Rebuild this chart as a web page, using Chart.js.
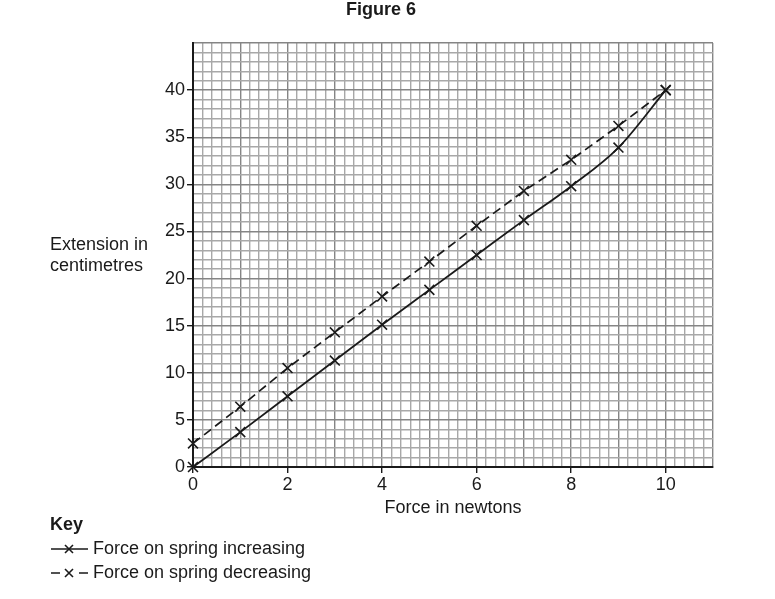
<!DOCTYPE html>
<html>
<head>
<meta charset="utf-8">
<script src="https://cdn.jsdelivr.net/npm/chart.js@4"></script>
<style>
  body { margin: 0; background: #fff; }
  #wrap { width: 775px; height: 599px; position: relative; }
</style>
</head>
<body>
<div id="wrap"><canvas id="springChart" width="775" height="599"></canvas></div>
<script>
// Data
const forces = [0, 1, 2, 3, 4, 5, 6, 7, 8, 9, 10];
const extIncreasing = [0, 3.7, 7.5, 11.3, 15.1, 18.8, 22.5, 26.2, 29.8, 33.9, 40];
const extDecreasing = [2.5, 6.4, 10.5, 14.3, 18.1, 21.8, 25.6, 29.3, 32.6, 36.2, 40];
const xTickLabels = [0, 2, 4, 6, 8, 10];
const yTickLabels = [0, 5, 10, 15, 20, 25, 30, 35, 40];

const FONT = '"Liberation Sans", Arial, sans-serif';
const INK = '#1a1a1a';

const toPoints = (ys) => forces.map((f, i) => ({ x: f, y: ys[i] }));

// extra text: title, y label, key
const annotations = {
  id: 'annotations',
  afterDraw(chart) {
    const ctx = chart.ctx;
    ctx.save();
    ctx.fillStyle = INK;
    ctx.textBaseline = 'middle';

    ctx.font = 'bold 18px ' + FONT;
    ctx.textAlign = 'center';
    ctx.fillText('Figure 6', 381, 10);

    ctx.font = '18px ' + FONT;
    ctx.textAlign = 'left';
    ctx.fillText('Extension in', 50, 245);
    ctx.fillText('centimetres', 50, 266);

    ctx.textAlign = 'center';
    ctx.fillText('Force in newtons', 453, 508);

    // key
    ctx.textAlign = 'left';
    ctx.font = 'bold 18px ' + FONT;
    ctx.fillText('Key', 50, 525);
    ctx.font = '18px ' + FONT;
    ctx.fillText('Force on spring increasing', 93, 549);
    ctx.fillText('Force on spring decreasing', 93, 573);

    ctx.strokeStyle = INK;
    ctx.lineWidth = 1.6;
    ctx.beginPath();
    ctx.moveTo(51, 549); ctx.lineTo(88, 549);
    ctx.moveTo(51, 573); ctx.lineTo(60, 573);
    ctx.moveTo(79, 573); ctx.lineTo(88, 573);
    ctx.stroke();
    [[69, 549], [69, 573]].forEach(([cx, cy]) => {
      ctx.beginPath();
      ctx.moveTo(cx - 4, cy - 4); ctx.lineTo(cx + 4, cy + 4);
      ctx.moveTo(cx + 4, cy - 4); ctx.lineTo(cx - 4, cy + 4);
      ctx.stroke();
    });
    ctx.restore();
  }
};

const xIndex = (v) => Math.round(v * 5);

const chart = new Chart(document.getElementById('springChart'), {
  type: 'line',
  data: {
    datasets: [{
      label: 'Force on spring increasing',
      data: toPoints(extIncreasing),
      borderColor: INK,
      borderWidth: 1.8,
      cubicInterpolationMode: 'monotone',
      pointStyle: 'crossRot',
      pointRadius: 7,
      pointBorderWidth: 1.6,
      pointBorderColor: INK,
      clip: false,
      fill: false
    }, {
      label: 'Force on spring decreasing',
      data: toPoints(extDecreasing),
      borderColor: INK,
      borderWidth: 1.7,
      borderDash: [9, 5],
      tension: 0,
      pointStyle: 'crossRot',
      pointRadius: 7,
      pointBorderWidth: 1.6,
      pointBorderColor: INK,
      clip: false,
      fill: false
    }]
  },
  options: {
    responsive: false,
    animation: false,
    layout: { padding: { left: 0, top: 43, right: 62, bottom: 0 } },
    plugins: { legend: { display: false }, tooltip: { enabled: false } },
    scales: {
      x: {
        type: 'linear',
        min: 0,
        max: 11,
        afterFit: (scale) => { scale.height = 132; },
        border: { color: INK, width: 2 },
        grid: {
          color: (c) => xIndex(c.tick.value) % 5 === 0 ? '#858585' : '#a8a8a8',
          lineWidth: 1.4,
          tickLength: 6,
          tickColor: (c) => {
            const k = xIndex(c.tick.value);
            return (k % 10 === 0 && xTickLabels.includes(k / 5)) ? INK : 'rgba(0,0,0,0)';
          }
        },
        ticks: {
          stepSize: 0.2,
          autoSkip: false,
          maxRotation: 0,
          padding: 1,
          color: INK,
          font: { size: 18, family: FONT },
          callback: (v) => {
            const k = xIndex(v);
            return (k % 5 === 0 && xTickLabels.includes(k / 5)) ? String(k / 5) : '';
          }
        }
      },
      y: {
        type: 'linear',
        min: 0,
        max: 45,
        afterFit: (scale) => { scale.width = 193; },
        border: { color: INK, width: 2 },
        grid: {
          color: (c) => Math.round(c.tick.value) % 5 === 0 ? '#858585' : '#a8a8a8',
          lineWidth: 1.4,
          tickLength: 6,
          tickColor: (c) => yTickLabels.includes(Math.round(c.tick.value)) ? INK : 'rgba(0,0,0,0)'
        },
        ticks: {
          stepSize: 1,
          autoSkip: false,
          padding: 2,
          color: INK,
          font: { size: 18, family: FONT },
          callback: (v) => yTickLabels.includes(Math.round(v)) ? String(Math.round(v)) : ''
        }
      }
    }
  },
  plugins: [annotations]
});
</script>
</body>
</html>
